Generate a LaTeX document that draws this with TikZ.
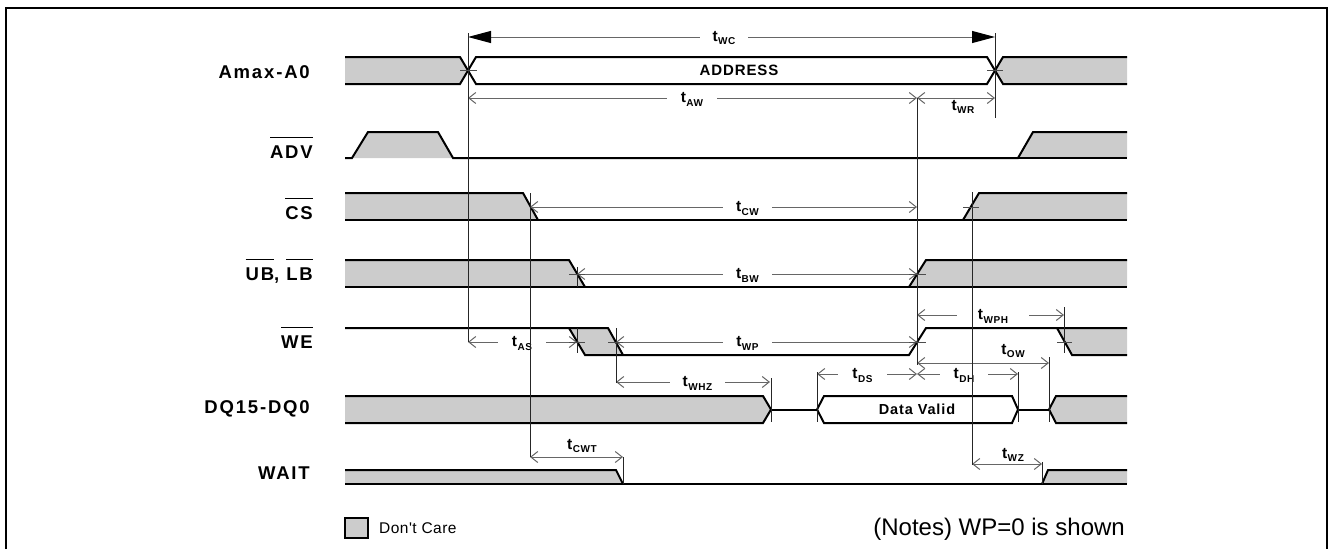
\documentclass[tikz,border=0pt]{standalone}
\usepackage{fontspec}
\setmainfont{Liberation Sans}
\newfontfamily\namefont[LetterSpace=10]{Liberation Sans}
\newfontfamily\boxfont[LetterSpace=6]{Liberation Sans}
\newfontfamily\subfont[LetterSpace=6]{Liberation Sans}
\newfontfamily\plainfont[LetterSpace=3]{Liberation Sans}
\usetikzlibrary{arrows.meta}
\newcommand\tsub[1]{{\bfseries\fontsize{15.5}{15.5}\selectfont t\kern0.4pt\raisebox{-3.8pt}{\subfont\bfseries\fontsize{10}{10}\selectfont #1}}}
\newcommand\ovl[1]{\setbox0\hbox{#1}\rlap{\rule[20pt]{\wd0}{1.3pt}}\box0}
\begin{document}
\begin{tikzpicture}[x=1pt,y=-1pt,
  sig/.style={line width=2pt, line join=miter, draw=black},
  dc/.style={fill=black!20},
  dim/.style={draw=black!60, line width=1pt},
  ext/.style={draw=black!85, line width=0.9pt},
  tick/.style={draw=black!70, line width=0.8pt},
  >={Straight Barb[length=7pt,width=11pt]},
  bigtip/.style={-{Triangle[length=23pt,width=12pt,color=black]}},
  lbl/.style={inner sep=0pt, minimum height=12pt},
  sname/.style={anchor=base east, inner sep=0pt, font=\namefont\bfseries\fontsize{18.5}{18.5}\selectfont},
]
\useasboundingbox (0,0) rectangle (1329,549);
% frame
\draw[line width=1.6pt] (6,549) -- (6,8) -- (1327,8) -- (1327,549);

% signal names
\node[sname] (nA)   at (310,78)  {Amax-A0};
\node[sname] (nADV) at (313,158) {\ovl{ADV}};
\node[sname] (nCS)  at (313,219) {\ovl{CS}};
\node[sname] (nUB)  at (313,280) {\ovl{UB}, \ovl{LB}};
\node[sname] (nWE)  at (313,348) {\ovl{WE}};
\node[sname] (nDQ)  at (310,413) {DQ15-DQ0};
\node[sname] (nW)   at (310,479) {WAIT};

% ---- Address
\fill[dc] (345,57) -- (460,57) -- (468,70.5) -- (460,84) -- (345,84) -- cycle;
\draw[sig] (345,57) -- (460,57) -- (468,70.5) -- (460,84) -- (345,84);
\draw[sig,fill=white] (468,70.5) -- (476,57) -- (987,57) -- (995,70.5) -- (987,84) -- (476,84) -- cycle;
\fill[dc] (1127,57) -- (1003,57) -- (995,70.5) -- (1003,84) -- (1127,84) -- cycle;
\draw[sig] (1127,57) -- (1003,57) -- (995,70.5) -- (1003,84) -- (1127,84);
\node[font=\boxfont\bfseries\fontsize{15}{15}\selectfont, inner sep=0pt] (addr) at (739,70.5) {ADDRESS};

% ---- ADV
\fill[dc] (352,158) -- (368,132) -- (438,132) -- (453,158) -- cycle;
\fill[dc] (1018,158) -- (1033,132) -- (1127,132) -- (1127,158) -- cycle;
\draw[sig] (345,158) -- (352,158) -- (368,132) -- (438,132) -- (453,158) -- (1018,158) -- (1033,132) -- (1127,132);
\draw[sig] (1018,158) -- (1127,158);

% ---- CS
\fill[dc] (345,193) -- (523,193) -- (538,220) -- (345,220) -- cycle;
\fill[dc] (963,220) -- (979,193) -- (1127,193) -- (1127,220) -- cycle;
\draw[sig] (345,193) -- (523,193) -- (538,220);
\draw[sig] (345,220) -- (1127,220);
\draw[sig] (963,220) -- (979,193) -- (1127,193);

% ---- UB/LB
\fill[dc] (345,260) -- (569,260) -- (585,287) -- (345,287) -- cycle;
\fill[dc] (909,287) -- (926,260) -- (1127,260) -- (1127,287) -- cycle;
\draw[sig] (345,260) -- (569,260) -- (585,287);
\draw[sig] (345,287) -- (1127,287);
\draw[sig] (909,287) -- (926,260) -- (1127,260);

% ---- WE
\fill[dc] (569,328) -- (608,328) -- (623,355) -- (585,355) -- cycle;
\fill[dc] (1057,328) -- (1127,328) -- (1127,355) -- (1072,355) -- cycle;
\draw[sig] (345,328) -- (608,328) -- (623,355);
\draw[sig] (569,328) -- (585,355) -- (909,355) -- (926,328) -- (1127,328);
\draw[sig] (1057,328) -- (1072,355) -- (1127,355);

% ---- DQ
\fill[dc] (345,396) -- (763,396) -- (771,409.5) -- (763,423) -- (345,423) -- cycle;
\draw[sig] (345,396) -- (763,396) -- (771,409.5) -- (763,423) -- (345,423);
\draw[sig] (771,409.5) -- (817,409.5);
\draw[sig] (817,409.5) -- (824,396) -- (1012,396) -- (1018,409.5) -- (1012,423) -- (824,423) -- cycle;
\draw[sig] (1018,409.5) -- (1049,409.5);
\fill[dc] (1127,396) -- (1056,396) -- (1049,409.5) -- (1056,423) -- (1127,423) -- cycle;
\draw[sig] (1127,396) -- (1056,396) -- (1049,409.5) -- (1056,423) -- (1127,423);
\node[font=\boxfont\bfseries\fontsize{14.5}{14.5}\selectfont, inner sep=0pt] (dv) at (917,409.5) {Data Valid};

% ---- WAIT
\fill[dc] (345,470) -- (616,470) -- (623,484) -- (345,484) -- cycle;
\fill[dc] (1042,484) -- (1048,470) -- (1127,470) -- (1127,484) -- cycle;
\draw[sig] (345,470) -- (616,470) -- (623,484);
\draw[sig] (345,484) -- (1127,484);
\draw[sig] (1042,484) -- (1048,470) -- (1127,470);

% ---- dimension coordinates
\coordinate (wcL) at (468,37);  \coordinate (wcR) at (995,37);
\coordinate (awL) at (468,98);  \coordinate (awR) at (917,98);
\coordinate (wrL) at (917,98);  \coordinate (wrR) at (995,98);
\coordinate (cwL) at (530,207); \coordinate (cwR) at (917,207);
\coordinate (bwL) at (577,274); \coordinate (bwR) at (917,274);
\coordinate (asL) at (468,342); \coordinate (asR) at (577,342);
\coordinate (wpL) at (616,342); \coordinate (wpR) at (917,342);
\coordinate (wphL) at (917,315); \coordinate (wphR) at (1064,315);
\coordinate (owL) at (917,363); \coordinate (owR) at (1049,363);
\coordinate (whzL) at (616,382); \coordinate (whzR) at (770,382);
\coordinate (dsL) at (817,374); \coordinate (dsR) at (917,374);
\coordinate (dhL) at (917,374); \coordinate (dhR) at (1018,374);
\coordinate (cwtL) at (530,457); \coordinate (cwtR) at (623,457);
\coordinate (wzL) at (972,464); \coordinate (wzR) at (1042,464);

% ---- labels (in-line)
\node[lbl, minimum width=48pt] (twc) at (724,38) {\tsub{WC}};
\node[lbl, minimum width=50pt] (taw) at (692,99.5) {\tsub{AW}};
\node[lbl, minimum width=49pt] (tcw) at (747.5,208.5) {\tsub{CW}};
\node[lbl, minimum width=49pt] (tbw) at (747.5,275.5) {\tsub{BW}};
\node[lbl, minimum width=48pt] (tas) at (522,343.5) {\tsub{AS}};
\node[lbl, minimum width=49pt] (twp) at (747.5,343.5) {\tsub{WP}};
\node[lbl, minimum width=72pt] (twph) at (993,316.5) {\tsub{WPH}};
\node[lbl, minimum width=55pt] (twhz) at (697.5,383.5) {\tsub{WHZ}};
\node[lbl, minimum width=49pt] (tds) at (862.5,375.5) {\tsub{DS}};
\node[lbl, minimum width=48pt] (tdh) at (964,375.5) {\tsub{DH}};
% labels (above / below)
\node[lbl] (twr) at (963,107) {\tsub{WR}};
\node[lbl] (tow) at (1013,351) {\tsub{OW}};
\node[lbl] (tcwt) at (582,446) {\tsub{CWT}};
\node[lbl] (twz) at (1013,455) {\tsub{WZ}};

% ---- dimension arrows
\draw[dim,bigtip] (twc.west |- wcL) -- (wcL);
\draw[dim,bigtip] (twc.east |- wcR) -- (wcR);
\draw[dim,->] (taw.west |- awL) -- (awL);
\draw[dim,->] (taw.east |- awR) -- (awR);
\draw[dim,<->] (wrL) -- (wrR);
\draw[dim,->] (tcw.west |- cwL) -- (cwL);
\draw[dim,->] (tcw.east |- cwR) -- (cwR);
\draw[dim,->] (tbw.west |- bwL) -- (bwL);
\draw[dim,->] (tbw.east |- bwR) -- (bwR);
\draw[dim,->] (tas.west |- asL) -- (asL);
\draw[dim,->] (tas.east |- asR) -- (asR);
\draw[dim,->] (twp.west |- wpL) -- (wpL);
\draw[dim,->] (twp.east |- wpR) -- (wpR);
\draw[dim,->] (twph.west |- wphL) -- (wphL);
\draw[dim,->] (twph.east |- wphR) -- (wphR);
\draw[dim,<->] (owL) -- (owR);
\draw[dim,->] (twhz.west |- whzL) -- (whzL);
\draw[dim,->] (twhz.east |- whzR) -- (whzR);
\draw[dim,->] (tds.west |- dsL) -- (dsL);
\draw[dim,->] (tds.east |- dsR) -- (dsR);
\draw[dim,->] (tdh.west |- dhL) -- (dhL);
\draw[dim,->] (tdh.east |- dhR) -- (dhR);
\draw[dim,<->] (cwtL) -- (cwtR);
\draw[dim,<->] (wzL) -- (wzR);

% ---- extension lines
\draw[ext] (468,33) -- (468,342);
\draw[ext] (995,33) -- (995,118);
\draw[ext] (917,98) -- (917,365);
\draw[ext] (530,193) -- (530,457);
\draw[ext] (577,267) -- (577,287);
\draw[ext] (577,328) -- (577,353);
\draw[ext] (616,328) -- (616,383);
\draw[ext] (972,192) -- (972,465);
\draw[ext] (1064,307) -- (1064,353);
\draw[ext] (1049,357) -- (1049,422);
\draw[ext] (771,378) -- (771,422);
\draw[ext] (817,372) -- (817,422);
\draw[ext] (1018,372) -- (1018,422);
\draw[ext] (623,457) -- (623,484);
\draw[ext] (1042,462) -- (1042,484);

% ---- crossing ticks
\draw[tick] (460,70.5) -- (477,70.5);
\draw[tick] (987,70.5) -- (1003,70.5);
\draw[tick] (569,274) -- (585,274);
\draw[tick] (569,342) -- (585,342);
\draw[tick] (608,342) -- (623,342);
\draw[tick] (909,274) -- (926,274);
\draw[tick] (909,342) -- (926,342);
\draw[tick] (963,207) -- (979,207);
\draw[tick] (1057,342) -- (1072,342);

% ---- legend and note
\draw[line width=2pt, fill=black!20] (345,518) rectangle (368,538);
\node[anchor=base west, inner sep=0pt, font=\plainfont\fontsize{15.5}{15.5}\selectfont] (dc) at (379,533) {Don't Care};
\node[anchor=base east, inner sep=0pt, font=\fontsize{24}{24}\selectfont] (note) at (1125,535) {(Notes) WP=0 is shown};
\end{tikzpicture}
\end{document}
